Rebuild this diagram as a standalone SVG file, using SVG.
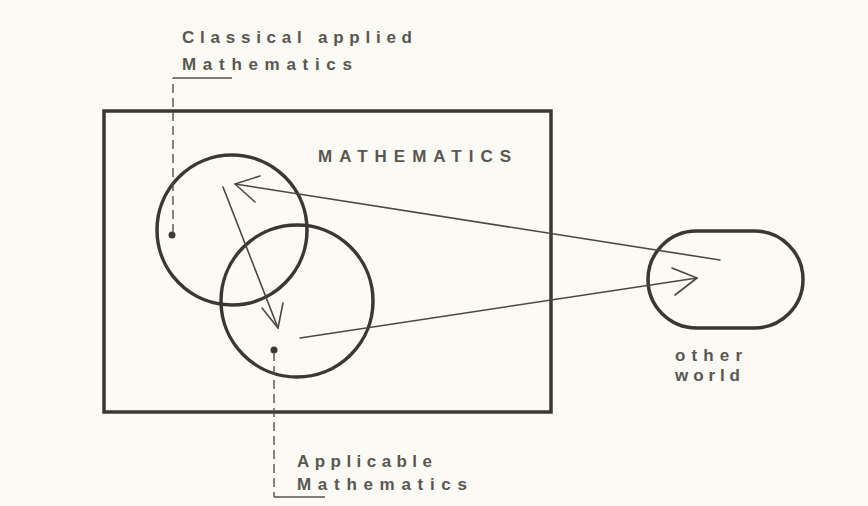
<svg xmlns="http://www.w3.org/2000/svg" width="868" height="506" viewBox="0 0 868 506">
<style>
.bg{fill:#fbfaf4}
.shape{fill:none;stroke:#3a3835;stroke-width:3.5}
.conn{fill:none;stroke:#4a4845;stroke-width:1.6;stroke-linecap:round;stroke-linejoin:round}
.lead{fill:none;stroke:#55524e;stroke-width:1.4}
.dash{stroke-dasharray:9 5}
.dot{fill:#3a3835}
.t{font-family:"Liberation Sans",Arial,sans-serif;font-size:17px;font-weight:bold;fill:#5a5752}
</style>
<rect class="bg" x="0" y="0" width="868" height="506"/>
<g id="mathematics">
<rect class="shape" x="104" y="111" width="447" height="301"/>
<text class="t" x="318" y="162" textLength="193" lengthAdjust="spacing">MATHEMATICS</text>
</g>
<g id="classical-applied">
<circle class="shape" cx="232" cy="230" r="75"/>
<circle class="dot" cx="172" cy="235" r="3.5"/>
<path class="lead dash" d="M173 233 V78"/>
<path class="lead" d="M173 78 H232"/>
<text class="t" x="182" y="43" textLength="230" lengthAdjust="spacing">Classical applied</text>
<text class="t" x="182" y="70" textLength="170" lengthAdjust="spacing">Mathematics</text>
</g>
<g id="applicable">
<circle class="shape" cx="297" cy="301" r="76"/>
<circle class="dot" cx="274" cy="350" r="3.5"/>
<path class="lead dash" d="M274 352 V497"/>
<path class="lead" d="M274 497 H325"/>
<text class="t" x="297" y="467" textLength="135" lengthAdjust="spacing">Applicable</text>
<text class="t" x="297" y="490" textLength="170" lengthAdjust="spacing">Mathematics</text>
</g>
<g id="other-world">
<rect class="shape" x="648" y="231" width="155" height="97" rx="48.5"/>
<text class="t" x="675" y="361" textLength="67" lengthAdjust="spacing">other</text>
<text class="t" x="675" y="381" textLength="65" lengthAdjust="spacing">world</text>
</g>
<g id="connectors">
<path class="conn" d="M720 260 L235 184"/>
<path class="conn" d="M260 176 L235 184 L255 202"/>
<path class="conn" d="M223 187 L278 328"/>
<path class="conn" d="M262 308 L278 328 L283 303"/>
<path class="conn" d="M300 338 L697 278"/>
<path class="conn" d="M672 268 L697 278 L675 295"/>
</g>
</svg>
